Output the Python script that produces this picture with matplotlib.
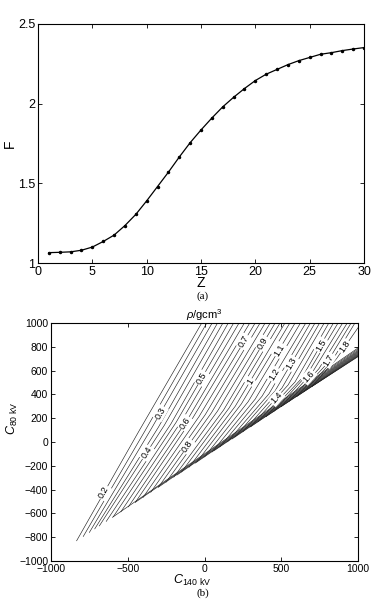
import numpy as np
import matplotlib
matplotlib.use('Agg')
import matplotlib.pyplot as plt

plt.rcParams['font.family'] = ['Liberation Sans', 'DejaVu Sans']
plt.rcParams['mathtext.fontset'] = 'custom'
plt.rcParams['mathtext.rm'] = 'Liberation Sans'
plt.rcParams['mathtext.it'] = 'Liberation Sans:italic'

# ---------------- panel (a) data ----------------
z_vals = list(range(1, 31))
f_vals = [1.065, 1.067, 1.070, 1.080, 1.100, 1.135, 1.175, 1.235, 1.305, 1.390,
          1.480, 1.570, 1.665, 1.755, 1.835, 1.910, 1.980, 2.040, 2.095, 2.145,
          2.185, 2.215, 2.245, 2.270, 2.290, 2.310, 2.320, 2.333, 2.343, 2.352]
a_xticks = [0, 5, 10, 15, 20, 25, 30]
a_yticks = [1, 1.5, 2, 2.5]
a_yticklabels = ['1', '1.5', '2', '2.5']

# ---------------- panel (b) data: iso-density contour lines ----------------
levels = [0.20, 0.25, 0.30, 0.35, 0.40, 0.45, 0.50, 0.55, 0.60, 0.65, 0.70,
          0.75, 0.80, 0.85, 0.90, 0.95, 1.00, 1.05, 1.10, 1.15, 1.20, 1.25,
          1.30, 1.35, 1.40, 1.45, 1.50, 1.55, 1.60, 1.65, 1.70, 1.75, 1.80]
start_x = [-833, -790, -750, -715, -685, -640, -594, -545, -496, -450, -400,
           -350, -300, -250, -200, -150, -100, -50, 0, 50, 100, 150,
           200, 250, 300, 350, 400, 450, 500, 550, 600, 650, 700]
start_y = [-830, -794, -760, -730, -705, -667, -628, -587, -545, -506, -465,
           -422, -379, -337, -295, -252, -211, -168, -125, -83, -41, 2,
           44, 86, 128, 171, 213, 255, 298, 340, 382, 425, 467]
# a point part-way along each line, where it kinks slightly
mid_x = [-430, -385, -345, -300, -262, -220, -185, -150, -110, -75, -35,
         5, 45, 85, 125, 160, 200, 240, 285, 330, 375, 420,
         460, 505, 545, 590, 630, 665, 705, 745, 785, 825, 860]
mid_y = [85, 100, 115, 125, 140, 150, 165, 175, 190, 205, 215,
         230, 245, 260, 270, 285, 300, 320, 340, 360, 385, 405,
         430, 455, 480, 505, 530, 560, 590, 615, 640, 670, 700]
end_x = [-18, 15, 50, 85, 120, 155, 190, 225, 260, 295, 330,
         362, 395, 428, 460, 492, 524, 556, 590, 625, 660, 690,
         720, 750, 780, 810, 840, 870, 900, 930, 955, 980, 1000]
end_y = [1000, 1000, 1000, 1000, 1000, 1000, 1000, 1000, 1000, 1000, 1000,
         1000, 1000, 1000, 1000, 1000, 1000, 1000, 1000, 1000, 1000, 1000,
         1000, 1000, 1000, 1000, 1000, 1000, 1000, 1000, 1000, 1000, 960]

# dense high-density lines hugging the lower boundary
band_start_x = [-600, -450, -300, -180, -60, 60, 180, 300, 400, 500, 600, 700]
band_start_y = [-633, -506, -379, -278, -177, -75, 26, 128, 213, 298, 382, 467]
band_end_x = [1000] * 12
band_end_y = [790, 780, 770, 762, 755, 748, 741, 735, 729, 724, 720, 717]

# contour labels: text and height (C80) where each sits on its line
label_levels = [0.2, 0.3, 0.4, 0.5, 0.6, 0.7, 0.8, 0.9, 1.0, 1.1, 1.2, 1.3,
                1.4, 1.5, 1.6, 1.7, 1.8]
label_texts = ['0.2', '0.3', '0.4', '0.5', '0.6', '0.7', '0.8', '0.9', '1',
               '1.1', '1.2', '1.3', '1.4', '1.5', '1.6', '1.7', '1.8']
label_y = [-425, 244, -91, 537, 160, 844, -35, 830, 509, 774, 565, 662,
           370, 816, 551, 690, 800]

b_xticks = [-1000, -500, 0, 500, 1000]
b_yticks = [-1000, -800, -600, -400, -200, 0, 200, 400, 600, 800, 1000]

W, H = 374, 605
fig = plt.figure(figsize=(W / 100, H / 100), dpi=100)

# ---------------- panel (a) ----------------
axa = fig.add_axes([38 / W, 1 - 263 / H, 326 / W, 239 / H])
axa.plot(z_vals, f_vals, '-', color='black', lw=0.9, marker='.', ms=3)
axa.set_xlim(0, 30)
axa.set_ylim(1, 2.5)
axa.set_xticks(a_xticks)
axa.set_yticks(a_yticks)
axa.set_yticklabels(a_yticklabels)
axa.tick_params(direction='in', top=True, right=True, length=3, width=0.6,
                labelsize=9, pad=2)
for s in axa.spines.values():
    s.set_linewidth(0.8)
axa.set_xlabel('Z', fontsize=10)
axa.xaxis.set_label_coords(0.5, -0.085)
axa.xaxis.label.set_va('center')
axa.set_ylabel('F', fontsize=10)
axa.yaxis.set_label_coords(-0.085, 0.5)
axa.yaxis.label.set_va('center')
fig.text(203 / W, 1 - 296 / H, '(a)', family=['Liberation Serif'], fontsize=8,
         ha='center', va='center')

# ---------------- panel (b) ----------------
axb = fig.add_axes([51 / W, 1 - 561 / H, 307 / W, 238 / H])
axb.set_xlim(-1000, 1000)
axb.set_ylim(-1000, 1000)

line_col = '#222222'
for i in range(len(levels)):
    axb.plot([start_x[i], mid_x[i], end_x[i]], [start_y[i], mid_y[i], end_y[i]],
             color=line_col, lw=0.45, zorder=2)
for i in range(len(band_start_x)):
    axb.plot([band_start_x[i], band_end_x[i]], [band_start_y[i], band_end_y[i]],
             color=line_col, lw=0.45, zorder=2)

for lev, txt, ly in zip(label_levels, label_texts, label_y):
    i = int(np.argmin([abs(l - lev) for l in levels]))
    xs = [start_x[i], mid_x[i], end_x[i]]
    ys = [start_y[i], mid_y[i], end_y[i]]
    lx = np.interp(ly, ys, xs)
    seg = 0 if ly < ys[1] else 1
    p0 = axb.transData.transform((xs[seg], ys[seg]))
    p1 = axb.transData.transform((xs[seg + 1], ys[seg + 1]))
    ang = np.degrees(np.arctan2(p1[1] - p0[1], p1[0] - p0[0]))
    axb.text(lx, ly, txt, fontsize=6.5, rotation=ang, rotation_mode='anchor',
             ha='center', va='center', zorder=3,
             bbox=dict(facecolor='white', edgecolor='none', pad=0.8))

axb.set_xticks(b_xticks)
axb.set_yticks(b_yticks)
axb.tick_params(direction='in', top=True, right=True, length=3, width=0.6,
                labelsize=7.5, pad=2)
for s in axb.spines.values():
    s.set_linewidth(0.8)
axb.set_title(r'$\rho$/gcm$^3$', fontsize=8, pad=3)
axb.set_xlabel(r'$C_{140\ \mathrm{kV}}$', fontsize=9)
axb.xaxis.set_label_coords(0.46, -0.08)
axb.xaxis.label.set_va('center')
axb.set_ylabel(r'$C_{80\ \mathrm{kV}}$', fontsize=9)
axb.yaxis.set_label_coords(-0.125, 0.6)
axb.yaxis.label.set_va('center')
fig.text(203 / W, 1 - 593 / H, '(b)', family=['Liberation Serif'], fontsize=8,
         ha='center', va='center')

fig.savefig('out.png', dpi=100)
